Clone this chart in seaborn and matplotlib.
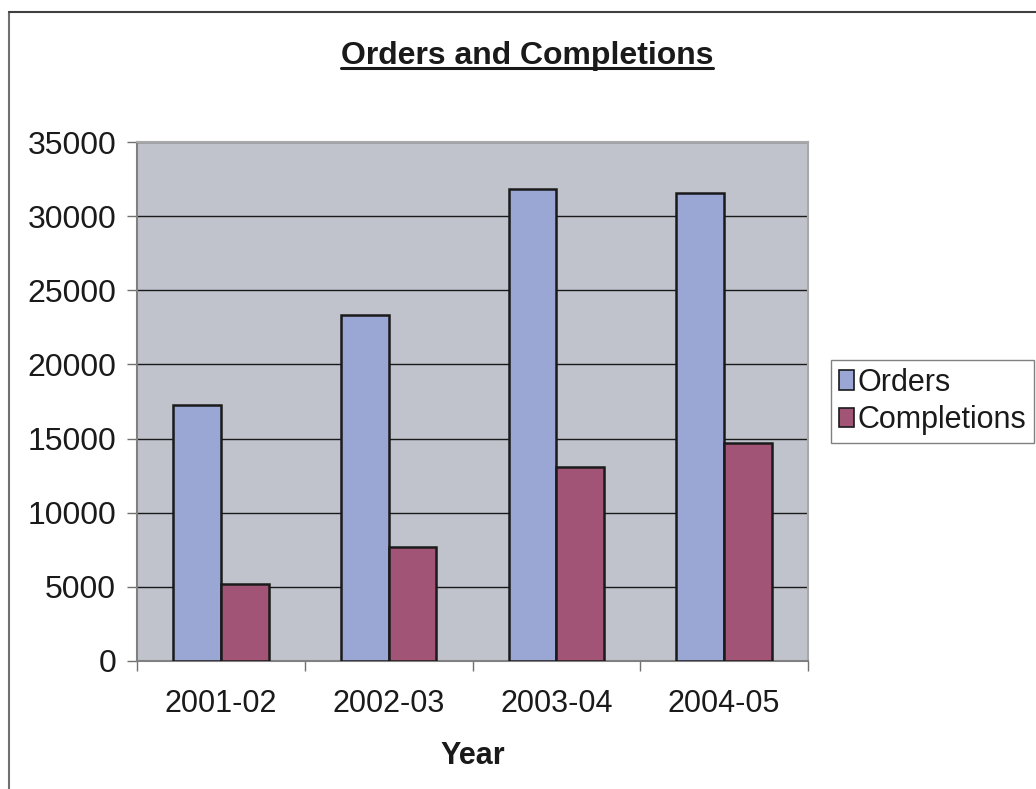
import matplotlib
matplotlib.use("Agg")
import matplotlib.pyplot as plt
from matplotlib.lines import Line2D
from matplotlib.patches import Patch
import seaborn as sns
import pandas as pd

years = ["2001-02", "2002-03", "2003-04", "2004-05"]
orders = [17250, 23350, 31850, 31550]
completions = [5200, 7700, 13050, 14700]
series_names = ["Orders", "Completions"]
y_ticks = [0, 5000, 10000, 15000, 20000, 25000, 30000, 35000]

colors = {"Orders": "#9AA6D3", "Completions": "#A25476"}

df = pd.DataFrame({
    "Year": years * 2,
    "Value": orders + completions,
    "Series": [series_names[0]] * len(years) + [series_names[1]] * len(years),
})

sns.set_theme(style="white")
plt.rcParams["font.family"] = ["Liberation Sans", "DejaVu Sans"]

FS = 22
W, H = 1036, 789
fig = plt.figure(figsize=(W / 100, H / 100), dpi=100)
fig.patch.set_facecolor("white")
ax = fig.add_axes([137 / W, 1 - 661 / H, (808 - 137) / W, (661 - 142) / H])
ax.set_facecolor("#C0C3CB")

sns.barplot(data=df, x="Year", y="Value", hue="Series", palette=colors,
            saturation=1, width=0.57, edgecolor="#1a1a1a", linewidth=1.8,
            ax=ax, zorder=3, legend=False)

ax.set_ylim(0, 35000)
ax.set_xlim(-0.5, 3.5)
ax.set_yticks(y_ticks)
ax.set_yticklabels([str(v) for v in y_ticks], fontsize=23, color="#1a1a1a")
ax.yaxis.grid(True, color="#1a1a1a", linewidth=1.0, zorder=1)
ax.set_axisbelow(True)

# category labels in the middle, tick marks on the boundaries
ax.set_xticks([-0.5, 0.5, 1.5, 2.5, 3.5])
ax.set_xticklabels([])
ax.set_xticks(range(len(years)), minor=True)
ax.set_xticklabels(years, minor=True, fontsize=FS, color="#1a1a1a")
ax.tick_params(axis="x", which="minor", length=0, pad=20)
ax.tick_params(axis="x", which="major", direction="out", length=7,
               width=1, color="#707070", bottom=True)
ax.tick_params(axis="y", direction="out", length=7, width=1,
               color="#707070", left=True, pad=8)

for side in ["left", "bottom", "right", "top"]:
    ax.spines[side].set_visible(True)
    ax.spines[side].set_color("#808080")
    ax.spines[side].set_linewidth(1.5)
ax.spines["right"].set_color("#A8A8A8")
ax.spines["top"].set_color("#A8A8A8")

ax.set_xlabel("Year", fontsize=FS, fontweight="bold", color="#1a1a1a",
              labelpad=16)
ax.set_ylabel("")

# legend
handles = [Patch(facecolor=colors[s], edgecolor="#1a1a1a", linewidth=1.2)
           for s in series_names]
leg = fig.legend(handles, series_names, loc="center left",
                 bbox_to_anchor=(831 / W, 1 - 401.5 / H),
                 fontsize=FS, frameon=True, fancybox=False, shadow=False,
                 handlelength=0.5, handleheight=0.6, handletextpad=0.12,
                 borderpad=0.25, labelspacing=0.25, borderaxespad=0)
leg.get_frame().set_edgecolor("#606060")
leg.get_frame().set_linewidth(1.0)
for t in leg.get_texts():
    t.set_color("#1a1a1a")

# underlined title
title = fig.text(527 / W, 1 - 64 / H, "Orders and Completions",
                 ha="center", va="baseline", fontsize=23,
                 fontweight="bold", color="#1a1a1a")
fig.canvas.draw()
bb = title.get_window_extent().transformed(fig.transFigure.inverted())
uy = 1 - 68 / H
fig.add_artist(Line2D([bb.x0, bb.x1], [uy, uy], transform=fig.transFigure,
                      color="#1a1a1a", linewidth=2.2))

# chart area border
fig.add_artist(Line2D([9 / W, 9 / W], [0, 1 - 12 / H],
                      transform=fig.transFigure, color="#707070", linewidth=1.5))
fig.add_artist(Line2D([9 / W, 1], [1 - 12 / H, 1 - 12 / H],
                      transform=fig.transFigure, color="#404040", linewidth=1.5))

fig.savefig("out.png", dpi=100)
